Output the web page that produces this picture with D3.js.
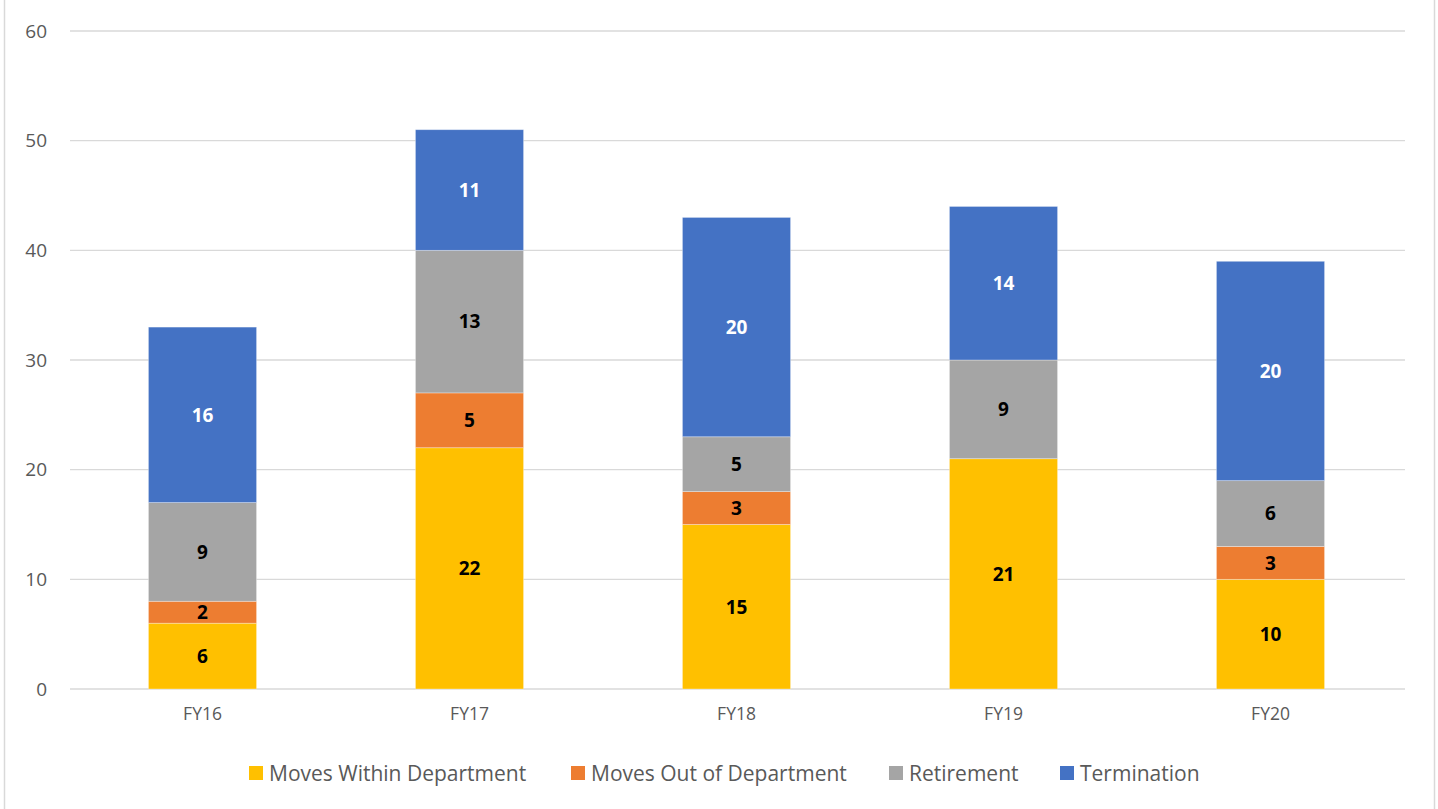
<!DOCTYPE html>
<html>
<head>
<meta charset="utf-8">
<script src="https://cdn.jsdelivr.net/npm/d3@7"></script>
<style>
  body { margin: 0; background: #fff; }
  svg { display: block; }
</style>
</head>
<body>
<div id="chartArea"></div>
<script>
// stacked bar chart - turnover by fiscal year

var years = ["FY16", "FY17", "FY18", "FY19", "FY20"];
var seriesNames = ["Moves Within Department", "Moves Out of Department", "Retirement", "Termination"];
var movesWithin = [6, 22, 15, 21, 10];
var movesOut = [2, 5, 3, 0, 3];
var retirement = [9, 13, 5, 9, 6];
var termination = [16, 11, 20, 14, 20];
var yTicks = [0, 10, 20, 30, 40, 50, 60];

(function() {

    var colors = ["#ffc000", "#ed7d31", "#a5a5a5", "#4472c4"];
    var labelColors = ["#000", "#000", "#000", "#fff"];

    var W = 1438, H = 809;
    var plotLeft = 70, plotRight = 1405, plotTop = 31, plotBottom = 689;

    var svg = d3.select("#chartArea").append("svg")
        .attr("width", W)
        .attr("height", H);

    // chart border
    svg.append("rect")
        .attr("x", 4.5).attr("y", -2)
        .attr("width", 1430).attr("height", H + 4)
        .attr("fill", "none")
        .attr("stroke", "#d9d9d9")
        .attr("stroke-width", 1.5);

    // build rows for stacking
    var rows = years.map(function(yr, i) {
        return {
            year: yr,
            "Moves Within Department": movesWithin[i],
            "Moves Out of Department": movesOut[i],
            "Retirement": retirement[i],
            "Termination": termination[i]
        };
    });
    var stacked = d3.stack().keys(seriesNames)(rows);

    var x = d3.scaleBand()
        .domain(years)
        .range([plotLeft - 1, plotRight - 1])
        .paddingInner(0.595)
        .paddingOuter(0.2975);
    var y = d3.scaleLinear()
        .domain([0, 60])
        .range([plotBottom, plotTop]);

    // gridlines
    svg.append("g")
        .selectAll("line")
        .data(yTicks)
        .enter().append("line")
        .attr("x1", plotLeft).attr("x2", plotRight)
        .attr("y1", function(d) { return y(d); })
        .attr("y2", function(d) { return y(d); })
        .attr("stroke", "#d9d9d9")
        .attr("stroke-width", 1.3);

    // y axis labels
    var yAxis = svg.append("g")
        .attr("transform", "translate(" + (plotLeft - 23) + ",0)")
        .call(d3.axisLeft(y).tickValues(yTicks).tickSize(0).tickPadding(0));
    yAxis.select(".domain").remove();
    yAxis.selectAll("text")
        .attr("font-family", "Open Sans, sans-serif")
        .attr("font-size", "19px")
        .attr("fill", "#595959");

    // bars
    var groups = svg.selectAll(".series")
        .data(stacked)
        .enter().append("g")
        .attr("class", "series")
        .attr("fill", function(d, i) { return colors[i]; });

    groups.selectAll("rect")
        .data(function(d) { return d; })
        .enter().append("rect")
        .attr("x", function(d) { return x(d.data.year); })
        .attr("width", x.bandwidth())
        .attr("y", function(d) { return y(d[1]); })
        .attr("height", function(d) { return y(d[0]) - y(d[1]); })
        .attr("stroke", "#fff")
        .attr("stroke-opacity", 0.4)
        .attr("stroke-width", 0.8);

    // value labels
    groups.each(function(s, si) {
        d3.select(this).selectAll("text")
            .data(s.filter(function(d) { return d[1] - d[0] > 0; }))
            .enter().append("text")
            .attr("x", function(d) { return x(d.data.year) + x.bandwidth() / 2; })
            .attr("y", function(d) { return (y(d[0]) + y(d[1])) / 2; })
            .attr("dy", "0.36em")
            .attr("text-anchor", "middle")
            .attr("font-family", "Open Sans, sans-serif")
            .attr("font-weight", "bold")
            .attr("font-size", "19px")
            .attr("fill", labelColors[si])
            .text(function(d) { return d[1] - d[0]; });
    });

    // x axis labels
    var xAxis = svg.append("g")
        .attr("transform", "translate(0," + (plotBottom + 12) + ")")
        .call(d3.axisBottom(x).tickSize(0).tickPadding(7));
    xAxis.select(".domain").remove();
    xAxis.selectAll("text")
        .attr("font-family", "Open Sans, sans-serif")
        .attr("font-size", "17.5px")
        .attr("fill", "#595959");

    // legend
    var legendX = [249, 571, 889, 1060];
    var legend = svg.append("g")
        .selectAll("g")
        .data(seriesNames)
        .enter().append("g")
        .attr("transform", function(d, i) { return "translate(" + legendX[i] + ",773)"; });
    legend.append("rect")
        .attr("x", 0).attr("y", -7)
        .attr("width", 14).attr("height", 14)
        .attr("fill", function(d, i) { return colors[i]; });
    legend.append("text")
        .attr("x", 20)
        .attr("dy", "0.36em")
        .attr("font-family", "Open Sans, sans-serif")
        .attr("font-size", "21px")
        .attr("fill", "#595959")
        .text(function(d) { return d; });

})();
</script>
</body>
</html>
